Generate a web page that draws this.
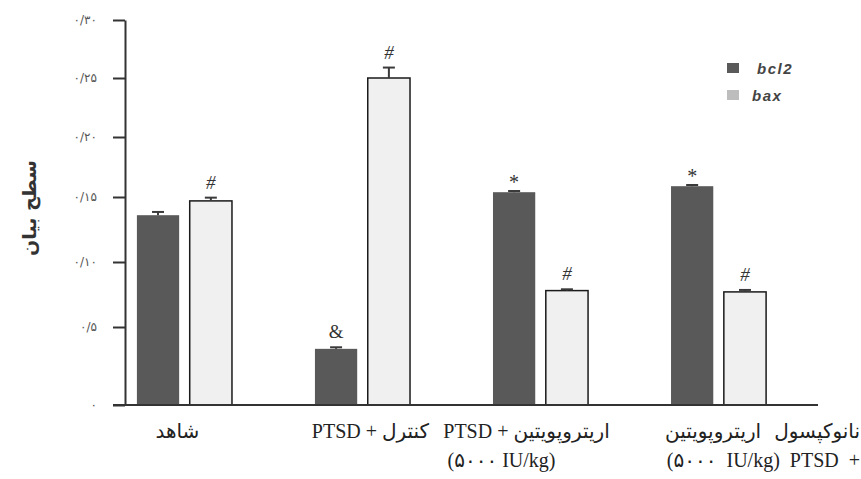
<!DOCTYPE html>
<html>
<head>
<meta charset="utf-8">
<script src="https://cdn.jsdelivr.net/npm/d3@7"></script>
<style>
	body { margin: 0; background: #fff; }
	svg { display: block; }
</style>
</head>
<body>
<div id="chart"></div>
<script>
// data
const groups = ["g1", "g2", "g3", "g4"];
const series = ["bcl2", "bax"];
const bcl2 = [0.136, 0.036, 0.154, 0.159];
const bcl2Err = [0.0025, 0.001, 0.001, 0.001];
const bax = [0.147, 0.25, 0.078, 0.077];
const baxErr = [0.0025, 0.009, 0.001, 0.0015];
const bcl2Marks = ["", "&", "*", "*"];
const baxMarks = ["#", "#", "#", "#"];
const labelLine1 = ["شاهد", "کنترل + PTSD", "اریتروپویتین + PTSD", "نانوکپسول اریتروپویتین"];
const labelLine2 = ["", "", "(۵۰۰۰ IU/kg)", "(۵۰۰۰ IU/kg) PTSD +"];
const tickValues = [0, 0.05, 0.10, 0.15, 0.20, 0.25, 0.30];
const tickLabels = ["۰", "۰/۵", "۰/۱۰", "۰/۱۵", "۰/۲۰", "۰/۲۵", "۰/۳۰"];
const yTitle = "سطح بیان";

let width = 861,
	height = 479,
	colors = { bcl2: "#595959", bax: "#f0f0f0" },
	legendColors = { bcl2: "#5a5a5a", bax: "#bdbdbd" };

const svg = d3
	.select("#chart")
	.append("svg")
	.attr("width", width)
	.attr("height", height);

// the printed axis is not evenly spaced, so use a piecewise scale
const y = d3
	.scaleLinear()
	.domain(tickValues)
	.range([405, 327, 262, 197, 137, 78, 20]);

const x0 = d3
	.scaleBand()
	.domain(groups)
	.range([128, 775])
	.paddingInner(0.466)
	.paddingOuter(0.05);

const x1 = d3
	.scaleBand()
	.domain(series)
	.range([0, x0.bandwidth()])
	.paddingInner(0.2);

const rows = groups.map((g, i) => ({
	group: g,
	values: [
		{ key: "bcl2", v: bcl2[i], e: bcl2Err[i], m: bcl2Marks[i] },
		{ key: "bax", v: bax[i], e: baxErr[i], m: baxMarks[i] },
	],
}));

const g = svg
	.selectAll(".group")
	.data(rows)
	.enter()
	.append("g")
	.attr("class", "group")
	.attr("transform", (d) => `translate(${x0(d.group)},0)`);

const bar = g
	.selectAll(".bar")
	.data((d) => d.values)
	.enter()
	.append("g")
	.attr("class", "bar");

bar
	.append("rect")
	.attr("x", (d) => x1(d.key))
	.attr("y", (d) => y(d.v))
	.attr("width", x1.bandwidth())
	.attr("height", (d) => y(0) - y(d.v))
	.attr("fill", (d) => colors[d.key])
	.attr("stroke", (d) => (d.key === "bax" ? "#1a1a1a" : "none"))
	.attr("stroke-width", 1.5);

// error bars
bar
	.append("line")
	.attr("x1", (d) => x1(d.key) + x1.bandwidth() / 2)
	.attr("x2", (d) => x1(d.key) + x1.bandwidth() / 2)
	.attr("y1", (d) => y(d.v))
	.attr("y2", (d) => y(d.v + d.e))
	.attr("stroke", "#3a3a3a")
	.attr("stroke-width", 2);

bar
	.append("line")
	.attr("x1", (d) => x1(d.key) + x1.bandwidth() / 2 - 6)
	.attr("x2", (d) => x1(d.key) + x1.bandwidth() / 2 + 6)
	.attr("y1", (d) => y(d.v + d.e))
	.attr("y2", (d) => y(d.v + d.e))
	.attr("stroke", "#3a3a3a")
	.attr("stroke-width", 2);

bar
	.append("text")
	.attr("x", (d) => x1(d.key) + x1.bandwidth() / 2)
	.attr("y", (d) => y(d.v + d.e) - (d.m === "*" ? 2 : 9))
	.attr("text-anchor", "middle")
	.attr("font-family", "Liberation Serif, serif")
	.attr("font-style", (d) => (d.m === "#" ? "italic" : "normal"))
	.attr("font-size", (d) => (d.m === "*" ? 20 : 19))
	.attr("fill", "#333")
	.text((d) => d.m);

// axes
const yAxis = svg
	.append("g")
	.attr("transform", "translate(125,0)")
	.call(
		d3
			.axisLeft(y)
			.tickValues(tickValues)
			.tickSize(12)
			.tickSizeOuter(0)
			.tickPadding(16)
			.tickFormat((d, i) => tickLabels[i])
	);

yAxis.select(".domain").attr("stroke", "#333").attr("stroke-width", 2);
yAxis.selectAll(".tick line").attr("stroke", "#333").attr("stroke-width", 2);
yAxis
	.selectAll(".tick text")
	.attr("font-family", "DejaVu Sans, sans-serif")
	.attr("font-size", 12)
	.attr("letter-spacing", 2)
	.attr("fill", "#555");

svg
	.append("line")
	.attr("x1", 113)
	.attr("x2", 818)
	.attr("y1", y(0))
	.attr("y2", y(0))
	.attr("stroke", "#333")
	.attr("stroke-width", 2);

// category labels, nudged to where the figure prints them
const line1Shift = [-7, 8, -14, 0];
const line2Shift = [0, 0, -39, 0];

const labels = svg
	.selectAll(".label")
	.data(groups)
	.enter()
	.append("g")
	.attr("class", "label")
	.attr("font-family", "Liberation Serif, DejaVu Sans, serif")
	.attr("font-size", 20)
	.attr("fill", "#222");

const labelX = (shift) => (d, i) =>
	i === 3 ? 860 : x0(d) + x0.bandwidth() / 2 + shift[i];

labels
	.append("text")
	.attr("x", labelX(line1Shift))
	.attr("y", 438)
	.attr("text-anchor", (d, i) => (i === 3 ? "end" : "middle"))
	.attr("direction", (d, i) => (i === 1 || i === 2 ? "rtl" : "ltr"))
	.attr("unicode-bidi", "embed")
	.attr("word-spacing", (d, i) => (i === 3 ? 8 : 0))
	.text((d, i) => labelLine1[i]);

labels
	.append("text")
	.attr("x", labelX(line2Shift))
	.attr("y", 467)
	.attr("text-anchor", (d, i) => (i === 3 ? "end" : "middle"))
	.attr("word-spacing", (d, i) => (i === 3 ? 5 : 0))
	.text((d, i) => labelLine2[i]);

// y title
svg
	.append("text")
	.attr("transform", "translate(36,208) rotate(-90)")
	.attr("text-anchor", "middle")
	.attr("font-family", "DejaVu Sans, sans-serif")
	.attr("font-size", 19)
	.attr("font-weight", "bold")
	.attr("fill", "#333")
	.text(yTitle);

// legend
const legend = svg
	.selectAll(".legend")
	.data(series)
	.enter()
	.append("g")
	.attr("class", "legend")
	.attr("transform", (d, i) => `translate(727,${63 + i * 27})`);

legend
	.append("rect")
	.attr("width", 12)
	.attr("height", 10)
	.attr("fill", (d) => legendColors[d]);

legend
	.append("text")
	.attr("x", (d, i) => (i === 0 ? 30 : 25))
	.attr("y", 11)
	.attr("font-family", "Liberation Sans, sans-serif")
	.attr("font-style", "italic")
	.attr("font-weight", "bold")
	.attr("font-size", 15)
	.attr("letter-spacing", 1.5)
	.attr("fill", "#444")
	.text((d) => d);
</script>
</body>
</html>
